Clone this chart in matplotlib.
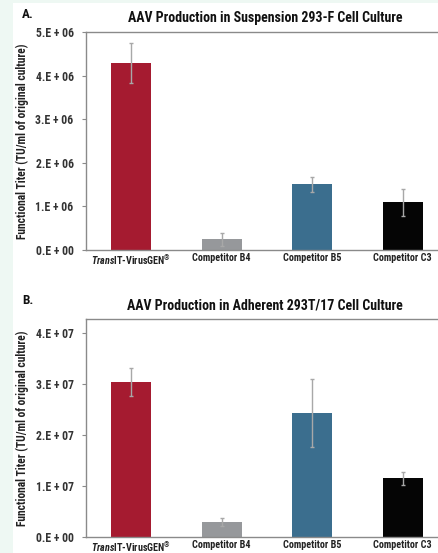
import matplotlib
matplotlib.use("Agg")
import matplotlib.pyplot as plt
from matplotlib.patches import Rectangle

FONT = 'Roboto Condensed'
plt.rcParams['font.family'] = [FONT, 'DejaVu Sans']
plt.rcParams['font.weight'] = 'bold'
plt.rcParams['axes.labelweight'] = 'bold'
plt.rcParams['mathtext.fontset'] = 'custom'
plt.rcParams['mathtext.it'] = FONT + ':italic:bold'
plt.rcParams['mathtext.rm'] = FONT + ':bold'
plt.rcParams['mathtext.bf'] = FONT + ':bold'

categories = [r"$\mathit{Trans}$IT-VirusGEN$^{\mathrm{®}}$", "Competitor B4", "Competitor B5", "Competitor C3"]
colors = ["#A51B30", "#96989B", "#3B6E8E", "#050505"]

titles = ["AAV Production in Suspension 293-F Cell Culture",
          "AAV Production in Adherent 293T/17 Cell Culture"]
panel_letters = ["A.", "B."]

values_a = [4.29e6, 0.245e6, 1.51e6, 1.09e6]
errors_a = [0.46e6, 0.15e6, 0.17e6, 0.31e6]
yticks_a = [0, 1e6, 2e6, 3e6, 4e6, 5e6]
yticklabels_a = ["0.E + 00", "1.E + 06", "2.E + 06", "3.E + 06", "4.E + 06", "5.E + 06"]
ymax_a = 5e6

values_b = [3.04e7, 0.29e7, 2.43e7, 1.15e7]
errors_b = [0.28e7, 0.08e7, 0.66e7, 0.13e7]
yticks_b = [0, 1e7, 2e7, 3e7, 4e7]
yticklabels_b = ["0.E + 00", "1.E + 07", "2.E + 07", "3.E + 07", "4.E + 07"]
ymax_b = 4.27e7

ylabel = "Functional Titer (TU/ml of original culture)"

W, H = 438, 553
fig = plt.figure(figsize=(W / 100, H / 100), dpi=100)
fig.patch.set_facecolor("white")
fig.add_artist(Rectangle((0, 0), 13 / W, 1, transform=fig.transFigure,
                         facecolor="#EEF8F3", edgecolor="none", zorder=0))
fig.add_artist(Rectangle((0, 1 - 3 / H), 1, 3 / H, transform=fig.transFigure,
                         facecolor="#EEF8F3", edgecolor="none", zorder=0))

panels = [
    (values_a, errors_a, yticks_a, yticklabels_a, ymax_a, 32, 250),
    (values_b, errors_b, yticks_b, yticklabels_b, ymax_b, 319, 537),
]

left_px, right_px = 86, 448
spine_col = "#8A8A8A"
for i, (vals, errs, yt, ytl, ymax, top_px, bot_px) in enumerate(panels):
    ax = fig.add_axes([left_px / W, 1 - bot_px / H,
                       (right_px - left_px) / W, (bot_px - top_px) / H])
    x = list(range(len(categories)))
    ax.bar(x, vals, width=0.44, color=colors, zorder=2)
    ax.errorbar(x, vals, yerr=errs, fmt="none", ecolor="#A8A8A8",
                elinewidth=1.0, capsize=1.5, capthick=1.0, zorder=3)
    ax.set_xlim(-0.5, 3.5)
    ax.set_ylim(0, ymax)
    ax.set_yticks(yt)
    ax.set_yticklabels(ytl, fontsize=8.5, color="#333333")
    ax.set_xticks(x)
    ax.set_xticklabels(categories, fontsize=7.3, color="#222222")
    ax.tick_params(axis="x", length=0, pad=2)
    ax.tick_params(axis="y", length=3, width=0.8, color=spine_col, pad=6)
    for s in ["left", "bottom", "top", "right"]:
        ax.spines[s].set_color(spine_col)
        ax.spines[s].set_linewidth(1.0)
    ax.set_ylabel(ylabel, fontsize=8.3, fontweight="bold", color="#222222")
    ax.yaxis.set_label_coords(-57 / (right_px - left_px), 0.5)
    fig.text(265 / W, 1 - (top_px - 14) / H, titles[i], ha="center", va="center",
             fontsize=10, fontweight="bold", color="#111111")
    fig.text(22 / W, 1 - (top_px - 18) / H, panel_letters[i], ha="left", va="center",
             fontsize=9.5, fontweight="bold", color="#111111")

fig.savefig("out.png", dpi=100)
